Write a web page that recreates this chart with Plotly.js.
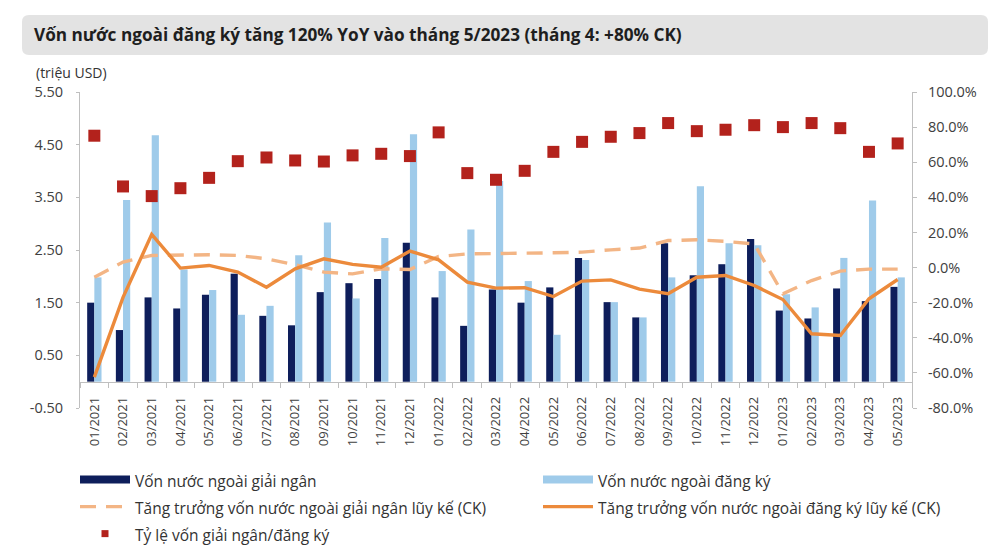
<!DOCTYPE html>
<html>
<head>
<meta charset="utf-8">
<script src="https://cdn.plot.ly/plotly-3.0.1.min.js"></script>
<style>html,body{margin:0;padding:0;background:#fff;}#chart{width:1000px;height:546px;}</style>
</head>
<body>
<div id="chart"></div>
<script>
const months = ['01/2021','02/2021','03/2021','04/2021','05/2021','06/2021','07/2021','08/2021','09/2021','10/2021','11/2021','12/2021',
  '01/2022','02/2022','03/2022','04/2022','05/2022','06/2022','07/2022','08/2022','09/2022','10/2022','11/2022','12/2022',
  '01/2023','02/2023','03/2023','04/2023','05/2023'];
const disbursed = [1.50,0.98,1.60,1.39,1.65,2.05,1.25,1.07,1.70,1.87,1.95,2.64,1.60,1.06,1.75,1.50,1.79,2.35,1.51,1.22,2.63,2.02,2.23,2.71,1.35,1.20,1.77,1.53,1.80];
const registered = [1.98,3.45,4.68,2.13,1.74,1.27,1.44,2.40,3.02,1.58,2.73,4.70,2.10,2.89,3.81,1.91,0.89,2.31,1.51,1.22,1.98,3.71,2.63,2.59,1.66,1.41,2.35,3.44,1.98];
const disbGrowth = [-5.5,3.1,6.9,7.3,7.3,6.9,5.0,1.6,-2.6,-3.6,-0.7,-1.1,6.3,7.8,7.8,8.2,8.4,8.8,10.1,11.1,15.4,15.8,14.9,13.5,-14.9,-7.4,-2.0,-0.9,-0.9];
const regGrowth = [-62.4,-17.0,18.9,-0.3,1.2,-2.6,-11.2,-0.7,5.0,1.8,0.2,9.4,4.4,-8.3,-11.7,-11.5,-16.5,-7.7,-7.0,-12.3,-14.9,-5.5,-4.5,-10.2,-18.2,-37.7,-38.7,-17.8,-6.8];
const ratio = [75.1,46.2,40.7,45.2,51.1,60.6,62.7,61.0,60.4,63.9,64.8,63.5,77.0,53.8,50.0,55.1,65.9,71.6,74.5,76.6,82.3,77.7,78.5,81.1,80.0,82.3,79.4,65.9,70.7];

const leftTickVals = [-0.5,0.5,1.5,2.5,3.5,4.5,5.5];
const leftTickText = ['-0.50','0.50','1.50','2.50','3.50','4.50','5.50'];
const rightTickVals = [-80,-60,-40,-20,0,20,40,60,80,100];
const rightTickText = ['-80.0%','-60.0%','-40.0%','-20.0%','0.0%','20.0%','40.0%','60.0%','80.0%','100.0%'];

const titleText = 'Vốn nước ngoài đăng ký tăng 120% YoY vào tháng 5/2023 (tháng 4: +80% CK)';
const unitText = '(triệu USD)';
const names = ['Vốn nước ngoài giải ngân','Vốn nước ngoài đăng ký','Tăng trưởng vốn nước ngoài giải ngân lũy kế (CK)','Tăng trưởng vốn nước ngoài đăng ký lũy kế (CK)','Tỷ lệ vốn giải ngân/đăng ký'];

const C = {dark:'#0e1e5b', light:'#9fcbea', dash:'#f3b585', solid:'#ec8a3b', red:'#b3221c', axis:'#bfbfbf', text:'#404040'};
const W = 1000, H = 546, M = {l:80, r:88, t:92, b:138};
const PW = W - M.l - M.r, PH = H - M.t - M.b;
const fx = px => (px - M.l) / PW;
const fy = py => (H - M.b - py) / PH;
const lab = s => '<span style="font-size:15.5px">' + s + '</span>';
const yRange = [-0.5, 5.5];
const LW = 398;

const traces = [
  {type:'scatter', x:[null], y:[null], mode:'lines', line:{color:C.dark, width:8}, name:lab(names[0]), legendgroup:'a', legendwidth:LW, hoverinfo:'skip'},
  {type:'scatter', x:[null], y:[null], mode:'lines', line:{color:C.light, width:8}, name:lab(names[1]), legendgroup:'b', hoverinfo:'skip'},
  {type:'bar', x:months, y:disbursed, marker:{color:C.dark}, showlegend:false, legendgroup:'a', name:names[0]},
  {type:'bar', x:months, y:registered, marker:{color:C.light}, showlegend:false, legendgroup:'b', name:names[1]},
  {type:'scatter', x:months, y:disbGrowth, yaxis:'y2', mode:'lines', line:{color:C.dash, width:3.4, dash:'16px,10px'}, name:lab(names[2]), legendgroup:'a', legendwidth:LW},
  {type:'scatter', x:months, y:regGrowth, yaxis:'y2', mode:'lines', line:{color:C.solid, width:3.4}, name:lab(names[3]), legendgroup:'b'},
  {type:'scatter', x:months, y:ratio, yaxis:'y2', mode:'markers', marker:{symbol:'square', size:12, color:C.red}, showlegend:false, legendgroup:'a', name:names[4]},
  {type:'scatter', x:[null], y:[null], yaxis:'y2', mode:'markers', marker:{symbol:'square', size:7, color:C.red}, name:lab(names[4]), legendgroup:'a', legendwidth:LW, hoverinfo:'skip'}
];

const r = 7, bx0 = 22, bx1 = 988, by0 = 15, by1 = 55;
const boxPath = 'M' + fx(bx0+r) + ',' + fy(by0) + ' L' + fx(bx1-r) + ',' + fy(by0) +
  ' Q' + fx(bx1) + ',' + fy(by0) + ' ' + fx(bx1) + ',' + fy(by0+r) +
  ' L' + fx(bx1) + ',' + fy(by1-r) + ' Q' + fx(bx1) + ',' + fy(by1) + ' ' + fx(bx1-r) + ',' + fy(by1) +
  ' L' + fx(bx0+r) + ',' + fy(by1) + ' Q' + fx(bx0) + ',' + fy(by1) + ' ' + fx(bx0) + ',' + fy(by1-r) +
  ' L' + fx(bx0) + ',' + fy(by0+r) + ' Q' + fx(bx0) + ',' + fy(by0) + ' ' + fx(bx0+r) + ',' + fy(by0) + ' Z';

const layout = {
  width:W, height:H,
  margin:{l:M.l, r:M.r, t:M.t, b:M.b, autoexpand:false},
  paper_bgcolor:'#ffffff', plot_bgcolor:'rgba(0,0,0,0)',
  font:{family:'"Open Sans", "Noto Sans", sans-serif', size:13, color:C.text},
  barmode:'group', bargap:0.5, bargroupgap:0,
  showlegend:true,
  title:{text:titleText, x:34/W, xref:'container', xanchor:'left', y:1-35/H, yref:'container', yanchor:'middle',
    font:{family:'"Open Sans", sans-serif', size:17.2, weight:700, color:'#1e1e1e'}},
  xaxis:{type:'category', anchor:'free', position:(0 - yRange[0])/(yRange[1]-yRange[0]), range:[-0.5, months.length-0.5],
    showline:true, linecolor:C.axis, linewidth:1, ticks:'outside', ticklen:5, tickcolor:C.axis, tickson:'boundaries',
    tickangle:-90, tickfont:{size:13, color:C.text}, ticklabelstandoff:9, showgrid:false, zeroline:false, fixedrange:true},
  yaxis:{range:yRange, tickvals:leftTickVals, ticktext:leftTickText, showline:true, linecolor:C.axis, ticks:'outside', ticklen:3,
    tickcolor:C.axis, showgrid:false, zeroline:false, tickfont:{size:14.5, color:C.text}, ticklabelstandoff:10},
  yaxis2:{overlaying:'y', side:'right', range:[-80,100], tickvals:rightTickVals, ticktext:rightTickText, showline:true, linecolor:C.axis,
    ticks:'outside', ticklen:4, tickcolor:C.axis, showgrid:false, zeroline:false, tickfont:{size:14.5, color:C.text}, ticklabelstandoff:8},
  legend:{orientation:'h', traceorder:'grouped', x:fx(75), xanchor:'left', y:fy(461), yanchor:'top', itemwidth:50,
    font:{size:18.5, color:'#333333'}, bgcolor:'rgba(0,0,0,0)', tracegroupgap:0},
  shapes:[{type:'path', xref:'paper', yref:'paper', path:boxPath, fillcolor:'#e3e3e3', line:{width:0}, layer:'below'}],
  annotations:[{text:unitText, xref:'paper', yref:'paper', x:fx(34), y:fy(73), xanchor:'left', yanchor:'middle', showarrow:false,
    font:{size:14, color:'#333333'}}]
};

Plotly.newPlot('chart', traces, layout, {displayModeBar:false, staticPlot:true});
</script>
</body>
</html>
